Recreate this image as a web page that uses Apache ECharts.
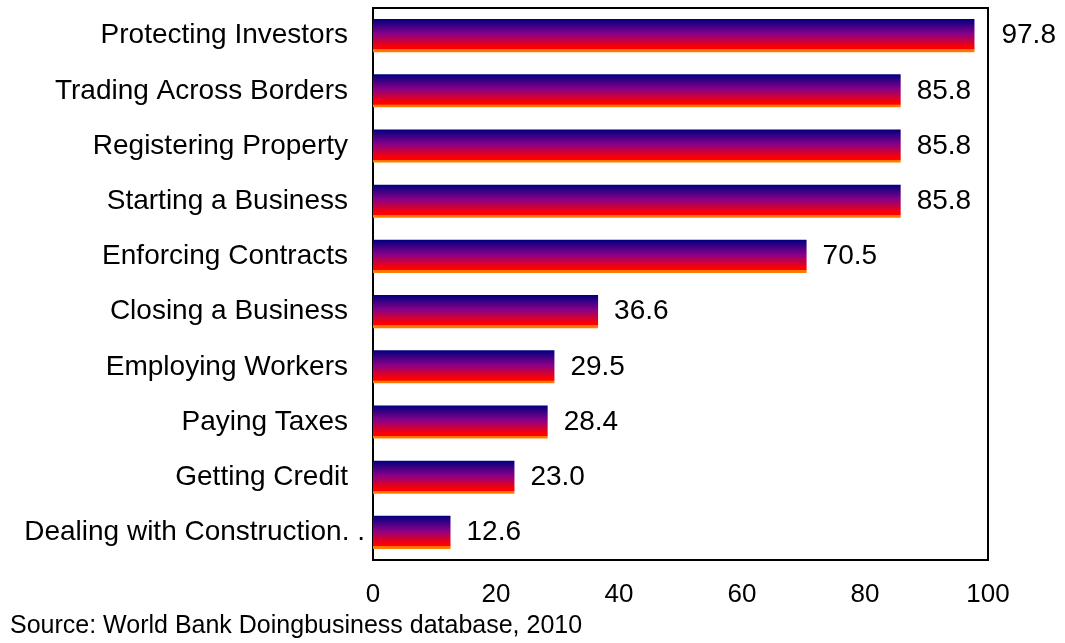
<!DOCTYPE html>
<html>
<head>
<meta charset="utf-8">
<script src="https://cdn.jsdelivr.net/npm/echarts@6/dist/echarts.min.js"></script>
<style>
  html, body { margin: 0; padding: 0; background: #fff; }
  #chart { width: 1065px; height: 643px; }
</style>
</head>
<body>
<div id="chart"></div>
<script>
// indicator names, top to bottom
const categories = [
  'Protecting Investors',
  'Trading Across Borders',
  'Registering Property',
  'Starting a Business',
  'Enforcing Contracts',
  'Closing a Business',
  'Employing Workers',
  'Paying Taxes',
  'Getting Credit',
  'Dealing with Construction. .'
];
const values = [97.8, 85.8, 85.8, 85.8, 70.5, 36.6, 29.5, 28.4, 23.0, 12.6];
const xTicks = [0, 20, 40, 60, 80, 100];
const source = 'Source: World Bank Doingbusiness database, 2010';

const font = '"Liberation Sans", Arial, sans-serif';

let chart = echarts.init(document.getElementById('chart'));

const barColor = new echarts.graphic.LinearGradient(0, 0, 0, 1, [
  { offset: 0, color: '#000080' },
  { offset: 0.45, color: '#8a0088' },
  { offset: 0.85, color: '#ff0000' },
  { offset: 0.91, color: '#ff0000' },
  { offset: 0.92, color: '#ff7000' },
  { offset: 1, color: '#ff8000' }
]);

const option = {
  animation: false,
  textStyle: { fontFamily: font },
  grid: {
    left: 373,
    right: 77,
    top: 8,
    bottom: 83,
    show: true,
    borderColor: '#000',
    borderWidth: 2,
    backgroundColor: '#fff'
  },
  xAxis: {
    type: 'value',
    min: xTicks[0],
    max: xTicks[xTicks.length - 1],
    interval: 20,
    axisLine: { show: false },
    axisTick: { show: false },
    splitLine: { show: false },
    axisLabel: { color: '#000', fontSize: 26, margin: 22, fontFamily: font }
  },
  yAxis: {
    type: 'category',
    inverse: true,
    // the truncated last name overhangs towards the frame like in the source
    data: categories.map(c => c.endsWith('. .')
      ? { value: c, textStyle: { padding: [0, -17, 0, 0] } }
      : c),
    axisLine: { show: false },
    axisTick: { show: false },
    axisLabel: { color: '#000', fontSize: 28, margin: 25, fontFamily: font }
  },
  series: [{
    type: 'bar',
    barCategoryGap: '40%',
    data: values.map(v => ({
      value: v,
      label: { distance: v > 95 ? 27 : 16 }
    })),
    itemStyle: { color: barColor },
    label: {
      show: true,
      position: 'right',
      color: '#000',
      fontSize: 28,
      fontFamily: font,
      formatter: p => p.value.toFixed(1)
    }
  }],
  graphic: [{
    type: 'text',
    left: 10,
    top: 614,
    style: { text: source, fill: '#000', font: '25px ' + font }
  }]
};

chart.setOption(option);
window.addEventListener('resize', () => {
  chart.resize();
});
</script>
</body>
</html>
